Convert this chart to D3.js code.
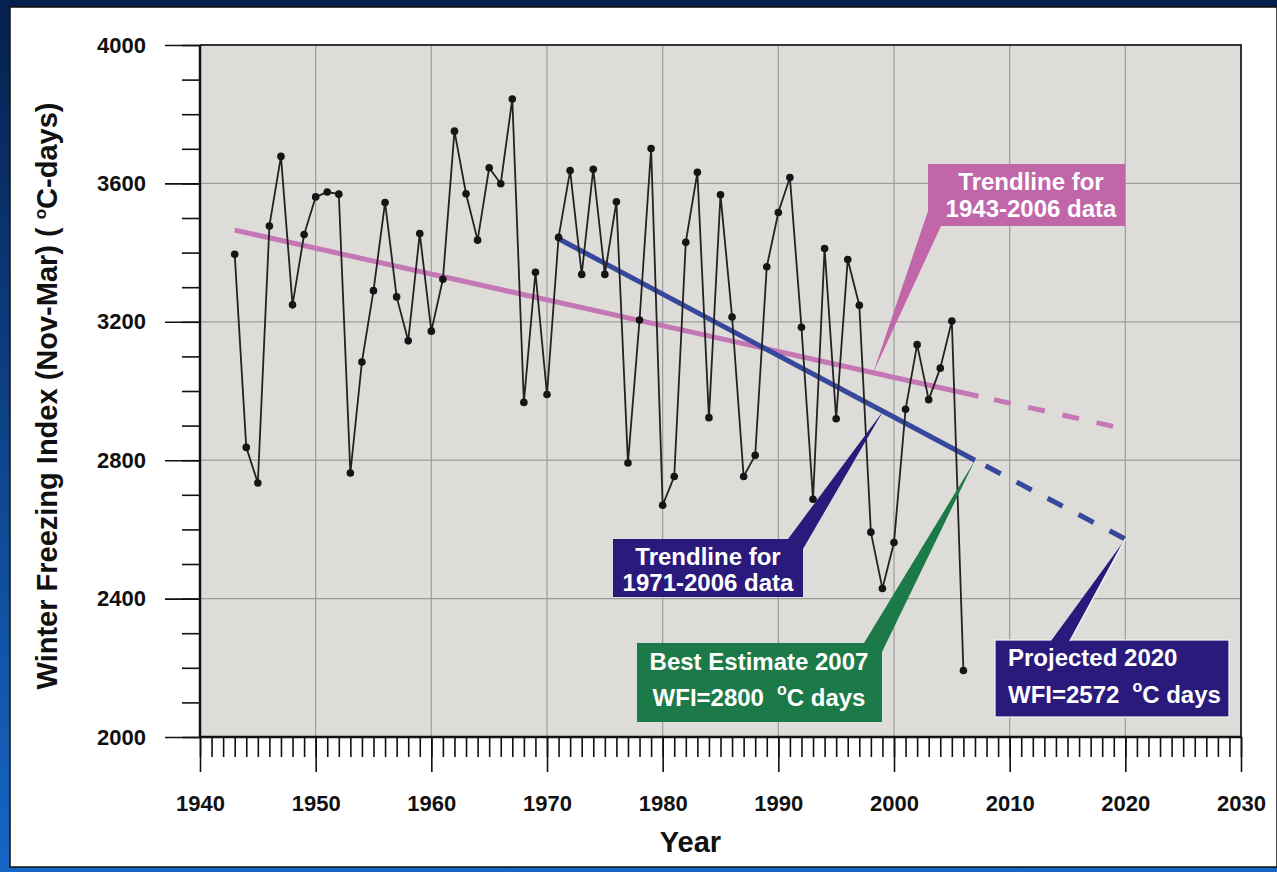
<!DOCTYPE html>
<html>
<head>
<meta charset="utf-8">
<script src="https://cdn.jsdelivr.net/npm/d3@7"></script>
<style>
  html, body { margin: 0; padding: 0; background: #fff; }
  svg { display: block; font-family: "Liberation Sans", Arial, sans-serif; }
</style>
</head>
<body>
<div id="chart"></div>
<script>
// winter freezing index, Nov-Mar, per year
const years = d3.range(1943, 2007);
const wfi = [
  3395, 2837, 2734, 3477, 3678, 3249, 3452, 3561, 3575, 3569,
  2763, 3084, 3290, 3545, 3272, 3145, 3455, 3173, 3323, 3751,
  3570, 3436, 3645, 3599, 3844, 2967, 3343, 2990, 3444, 3637,
  3337, 3641, 3337, 3547, 2792, 3205, 3701, 2670, 2753, 3430,
  3632, 2923, 3567, 3214, 2753, 2814, 3359, 3516, 3617, 3184,
  2687, 3412, 2920, 3380, 3248, 2592, 2429, 2562, 2947, 3134,
  2975, 3066, 3202, 2192
];

// trendlines: [year, value]
const trendAll = [[1943, 3465], [2007.3, 2985]];       // 1943-2006 fit
const trendAllProj = [[2007.3, 2985], [2020, 2890]];
const trendRecent = [[1971, 3440], [2007, 2800]];      // 1971-2006 fit
const trendRecentProj = [[2007, 2800], [2020, 2572]];

const xTicks = [1940, 1950, 1960, 1970, 1980, 1990, 2000, 2010, 2020, 2030];
const yTicks = [2000, 2400, 2800, 3200, 3600, 4000];

const W = 1277, H = 872;
const margin = { top: 45, right: 36, bottom: 135, left: 200 };
const width = W - margin.left - margin.right,
      height = H - margin.top - margin.bottom;

const svg = d3.select("#chart").append("svg")
  .attr("width", W).attr("height", H);

// outer frame (blue slide border)
const defs = svg.append("defs");
const grad = defs.append("linearGradient").attr("id", "frameGrad")
  .attr("x1", 0).attr("y1", 0).attr("x2", 0).attr("y2", 1);
grad.append("stop").attr("offset", "0%").attr("stop-color", "#06204e");
grad.append("stop").attr("offset", "100%").attr("stop-color", "#1566c6");
svg.append("rect").attr("width", W).attr("height", H).attr("fill", "url(#frameGrad)");
svg.append("rect").attr("x", 10).attr("y", 7).attr("width", W - 10).attr("height", H - 12)
  .attr("fill", "#fff").attr("stroke", "#111").attr("stroke-width", 1.5);

const g = svg.append("g").attr("transform", `translate(${margin.left},${margin.top})`);

const x = d3.scaleLinear().domain([1940, 2030]).range([0, width]);
const y = d3.scaleLinear().domain([2000, 4000]).range([height, 0]);

g.append("rect").attr("width", width).attr("height", height).attr("fill", "#dddcd8");

// grid
g.append("g").selectAll("line").data(xTicks.slice(1, -1)).join("line")
  .attr("x1", d => x(d)).attr("x2", d => x(d)).attr("y1", 0).attr("y2", height)
  .attr("stroke", "#9c9c9a").attr("stroke-width", 1.2);
g.append("g").selectAll("line").data(yTicks.slice(1, -1)).join("line")
  .attr("y1", d => y(d)).attr("y2", d => y(d)).attr("x1", 0).attr("x2", width)
  .attr("stroke", "#9c9c9a").attr("stroke-width", 1.2);

// frame top/right
g.append("path").attr("d", `M0,0H${width}V${height}`)
  .attr("fill", "none").attr("stroke", "#333").attr("stroke-width", 2);

// axes
function styleAxis(sel) {
  sel.select(".domain").remove();
  sel.selectAll(".tick line").attr("stroke", "#111").attr("stroke-width", 1.6);
  sel.selectAll(".tick text").attr("fill", "#111").attr("font-size", 22)
    .attr("font-weight", "bold").attr("font-family", "Liberation Sans, Arial, sans-serif");
}

g.append("g")
  .call(d3.axisLeft(y).tickValues(d3.range(2000, 4001, 100)).tickSize(18).tickFormat(""))
  .call(styleAxis);
g.append("g")
  .call(d3.axisLeft(y).tickValues(yTicks).tickSize(35).tickPadding(19).tickFormat(d3.format("d")))
  .call(styleAxis);

g.append("g").attr("transform", `translate(0,${height})`)
  .call(d3.axisBottom(x).tickValues(d3.range(1940, 2031, 1)).tickSize(20).tickFormat(""))
  .call(styleAxis);
g.append("g").attr("transform", `translate(0,${height})`)
  .call(d3.axisBottom(x).tickValues(xTicks).tickSize(35).tickPadding(23).tickFormat(d3.format("d")))
  .call(styleAxis);

g.append("line").attr("x1", 0).attr("x2", 0).attr("y1", 0).attr("y2", height + 1)
  .attr("stroke", "#111").attr("stroke-width", 2.5);
g.append("line").attr("x1", -1).attr("x2", width + 1).attr("y1", height).attr("y2", height)
  .attr("stroke", "#111").attr("stroke-width", 2.5);

// axis titles
svg.append("text")
  .attr("transform", `translate(57,396) rotate(-90)`)
  .attr("text-anchor", "middle").attr("font-size", 29).attr("font-weight", "bold").attr("fill", "#111")
  .call(t => {
    t.append("tspan").text("Winter Freezing Index (Nov-Mar) ( ");
    t.append("tspan").attr("font-size", 17).attr("dy", -11).text("o");
    t.append("tspan").attr("dy", 11).text("C-days)");
  });
svg.append("text").attr("x", margin.left + x(1982.4)).attr("y", 852)
  .attr("text-anchor", "middle").attr("font-size", 29).attr("font-weight", "bold").attr("fill", "#111")
  .text("Year");

// trendlines
const line = d3.line().x(d => x(d[0])).y(d => y(d[1]));
const pink = "#c576b4", blue = "#35489c";
g.append("path").attr("d", line(trendAll)).attr("fill", "none")
  .attr("stroke", pink).attr("stroke-width", 5);
g.append("path").attr("d", line(trendAllProj)).attr("fill", "none")
  .attr("stroke", pink).attr("stroke-width", 5)
  .attr("stroke-dasharray", "17,18").attr("stroke-dashoffset", 19);
g.append("path").attr("d", line(trendRecent)).attr("fill", "none")
  .attr("stroke", blue).attr("stroke-width", 5);
g.append("path").attr("d", line(trendRecentProj)).attr("fill", "none")
  .attr("stroke", blue).attr("stroke-width", 5)
  .attr("stroke-dasharray", "17,18").attr("stroke-dashoffset", 23);

// observed series
const series = years.map((yr, i) => [yr, wfi[i]]);
g.append("path").attr("d", line(series)).attr("fill", "none")
  .attr("stroke", "#222").attr("stroke-width", 1.8);
g.append("g").selectAll("circle").data(series).join("circle")
  .attr("cx", d => x(d[0])).attr("cy", d => y(d[1])).attr("r", 3.8).attr("fill", "#151515");

// callouts
function trendAt(tr, yr) {
  const [a, b] = [tr[0], tr[tr.length - 1]];
  return a[1] + (b[1] - a[1]) * (yr - a[0]) / (b[0] - a[0]);
}
const callouts = [
  { fill: "#c066a9", box: [928, 164, 197, 62], wedge: [[928, 211], [928, 226], [941, 226]],
    tip: [1998.2, trendAt(trendAll, 1998.2)], anchor: "middle", tx: 1031,
    lines: [["Trendline for", 190], ["1943-2006 data", 217]] },
  { fill: "#2a1a7c", box: [613, 539, 190, 58], wedge: [[788, 539], [803, 539], [803, 549]],
    tip: [1999.05, trendAt(trendRecent, 1999.05)], anchor: "middle", tx: 708,
    lines: [["Trendline for", 565], ["1971-2006 data", 591]] },
  { fill: "#1c7a48", box: [637, 643, 245, 79], wedge: [[864, 643], [882, 643], [882, 652]],
    tip: [2007, 2800], anchor: "middle", tx: 759,
    lines: [["Best Estimate 2007", 670], ["WFI=2800", 706, "C days"]] },
  { fill: "#2a1a7c", box: [995, 640, 234, 77], wedge: [[1051, 641], [1070, 641]],
    tip: [2020, 2572], anchor: "start", tx: 1008, stroke: "#f4f4f4",
    lines: [["Projected 2020", 666], ["WFI=2572", 703, "C days"]] }
];

const ann = svg.append("g");
callouts.forEach(c => {
  const tip = [margin.left + x(c.tip[0]), margin.top + y(c.tip[1])];
  const [bx, by, bw, bh] = c.box;
  ann.append("rect").attr("x", bx).attr("y", by).attr("width", bw).attr("height", bh)
    .attr("fill", c.fill).attr("stroke", c.stroke || "none").attr("stroke-width", 1.2);
  ann.append("polygon").attr("points", [...c.wedge, tip].map(p => p.join(",")).join(" "))
    .attr("fill", c.fill);
  if (c.stroke) {
    ann.append("line").attr("x1", c.wedge[1][0]).attr("y1", c.wedge[1][1])
      .attr("x2", tip[0]).attr("y2", tip[1]).attr("stroke", c.stroke).attr("stroke-width", 1.5);
  }
  c.lines.forEach(l => {
    const t = ann.append("text").attr("x", c.tx).attr("y", l[1])
      .attr("text-anchor", c.anchor).attr("fill", "#fff")
      .attr("font-size", 24).attr("font-weight", "bold");
    t.append("tspan").text(l[0]);
    if (l[2]) {
      t.append("tspan").attr("font-size", 16).attr("dx", 13).attr("dy", -11).text("o");
      t.append("tspan").attr("dy", 11).text(l[2]);
    }
  });
});
</script>
</body>
</html>
